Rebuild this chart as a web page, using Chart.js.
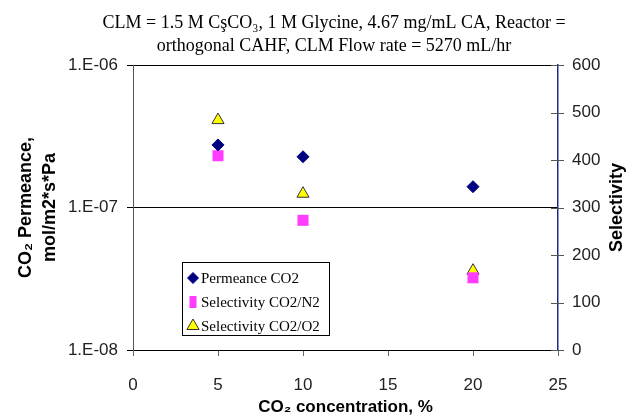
<!DOCTYPE html>
<html>
<head>
<meta charset="utf-8">
<script src="https://cdn.jsdelivr.net/npm/chart.js@4.4.1/dist/chart.umd.min.js"></script>
<style>
  html, body { margin: 0; padding: 0; background: #fff; }
  #wrap { position: relative; width: 631px; height: 415px; }
</style>
</head>
<body>
<div id="wrap"><canvas id="chart"></canvas></div>
<script>
// Valeurs
const co2Concentration = [5, 10, 20];
const permeanceCO2 = [2.75e-7, 2.27e-7, 1.40e-7];
const selectivityN2 = [409, 273, 152];
const selectivityO2 = [484, 329, 167];

const xTicks = [0, 5, 10, 15, 20, 25];
const leftTicks = [1e-8, 1e-7, 1e-6];
const leftTickLabels = ['1.E-08', '1.E-07', '1.E-06'];
const rightTicks = [0, 100, 200, 300, 400, 500, 600];

const seriesNames = ['Permeance CO2', 'Selectivity CO2/N2', 'Selectivity CO2/O2'];
const titleLines = [
    'CLM = 1.5 M CşCO₃, 1 M Glycine, 4.67 mg/mL CA, Reactor =',
    'orthogonal CAHF, CLM Flow rate = 5270 mL/hr'
];
const leftAxisTitle = ['CO₂ Permeance,', 'mol/m2*s*Pa'];
const rightAxisTitle = 'Selectivity';
const xAxisTitle = 'CO₂ concentration, %';

const SANS = 'Arial, "Liberation Sans", sans-serif';
const SERIF = '"Times New Roman", "Liberation Serif", serif';

const toPoints = (ys) => ys.map((y, i) => ({ x: co2Concentration[i], y: y }));

// titre en deux lignes, centré comme dans l'original
const titlePlugin = {
    id: 'titleLines',
    afterDraw(chart) {
        const { ctx } = chart;
        ctx.save();
        ctx.fillStyle = '#000';
        ctx.font = '18px ' + SERIF;
        ctx.textAlign = 'center';
        ctx.textBaseline = 'alphabetic';
        ctx.fillText(titleLines[0], 334, 28);
        ctx.fillText(titleLines[1], 334, 50.5);
        ctx.restore();
    }
};

// axe de droite : graduations croisées + titre lu de bas en haut
const rightAxisPlugin = {
    id: 'rightAxis',
    afterDraw(chart) {
        const { ctx, chartArea } = chart;
        const y1 = chart.scales.y1;
        ctx.save();
        ctx.strokeStyle = '#555';
        ctx.lineWidth = 1;
        y1.ticks.forEach(t => {
            const py = Math.round(y1.getPixelForValue(t.value)) + 0.5;
            ctx.beginPath();
            ctx.moveTo(chartArea.right - 7, py);
            ctx.lineTo(chartArea.right + 6, py);
            ctx.stroke();
        });
        ctx.translate(617, (chartArea.top + chartArea.bottom) / 2);
        ctx.rotate(-Math.PI / 2);
        ctx.fillStyle = '#000';
        ctx.font = 'bold 18px ' + SANS;
        ctx.textAlign = 'center';
        ctx.textBaseline = 'middle';
        ctx.fillText(rightAxisTitle, 0, 0);
        ctx.restore();
    }
};

// légende encadrée dans la zone de tracé
const boxLegendPlugin = {
    id: 'boxLegend',
    afterDatasetsDraw(chart) {
        const { ctx } = chart;
        const left = 182, top = 262, width = 147, height = 73;
        ctx.save();
        ctx.fillStyle = '#fff';
        ctx.fillRect(left, top, width, height);
        ctx.strokeStyle = '#000';
        ctx.lineWidth = 1;
        ctx.strokeRect(left + 0.5, top + 0.5, width, height);
        ctx.font = '15px ' + SERIF;
        ctx.textBaseline = 'middle';
        ctx.textAlign = 'left';
        chart.data.datasets.forEach((ds, i) => {
            const rowY = top + 16 + i * 24;
            const opts = {
                pointStyle: ds.pointStyle,
                radius: ds.legendRadius,
                borderWidth: ds.borderWidth,
                rotation: 0
            };
            ctx.fillStyle = ds.backgroundColor;
            ctx.strokeStyle = ds.borderColor;
            ctx.lineWidth = ds.borderWidth;
            Chart.helpers.drawPointLegend(ctx, opts, left + 11, rowY, ds.legendWidth);
            ctx.fillStyle = '#000';
            ctx.fillText(ds.label, left + 19, rowY + 1);
        });
        ctx.restore();
    }
};

new Chart(document.getElementById('chart'), {
    type: 'scatter',
    data: {
        datasets: [
            {
                label: seriesNames[0],
                data: toPoints(permeanceCO2),
                yAxisID: 'y',
                pointStyle: 'rectRot',
                pointRadius: 6,
                legendRadius: 5.5,
                backgroundColor: '#000080',
                borderColor: '#000080',
                borderWidth: 1
            },
            {
                label: seriesNames[1],
                data: toPoints(selectivityN2),
                yAxisID: 'y1',
                pointStyle: 'rect',
                pointRadius: 7.8,
                legendRadius: 8.5,
                legendWidth: 7,
                backgroundColor: '#ff3cff',
                borderColor: '#ff3cff',
                borderWidth: 0
            },
            {
                label: seriesNames[2],
                data: toPoints(selectivityO2),
                yAxisID: 'y1',
                pointStyle: 'triangle',
                pointRadius: 7,
                legendRadius: 7,
                backgroundColor: '#ffff00',
                borderColor: '#333',
                borderWidth: 1
            }
        ]
    },
    options: {
        responsive: true,
        maintainAspectRatio: false,
        animation: false,
        devicePixelRatio: 1,
        layout: { padding: { top: 65, left: 0, right: 0, bottom: 0 } },
        plugins: {
            legend: { display: false },
            tooltip: { enabled: false }
        },
        scales: {
            x: {
                type: 'linear',
                min: 0,
                max: 25,
                afterBuildTicks: (s) => { s.ticks = xTicks.map(v => ({ value: v })); },
                afterFit: (s) => { s.height = 65; },
                grid: { drawOnChartArea: false, drawTicks: true, tickLength: 6, color: '#666' },
                border: { color: '#000', width: 1 },
                ticks: { font: { family: SANS, size: 17 }, color: '#222', padding: 19, maxRotation: 0 },
                title: {
                    display: true,
                    text: xAxisTitle,
                    font: { family: SANS, size: 17, weight: 'bold', lineHeight: 0.85 },
                    color: '#000',
                    padding: 0
                }
            },
            y: {
                type: 'logarithmic',
                position: 'left',
                min: 1e-8,
                max: 1e-6,
                afterBuildTicks: (s) => { s.ticks = leftTicks.map(v => ({ value: v, major: true })); },
                afterFit: (s) => { s.width = 133; },
                grid: { color: '#000', lineWidth: 1, tickLength: 6, tickColor: '#000' },
                border: { color: '#555', width: 1 },
                ticks: {
                    font: { family: SANS, size: 17 },
                    color: '#222',
                    padding: 9,
                    callback: (v, i) => leftTickLabels[i]
                },
                title: {
                    display: true,
                    text: leftAxisTitle,
                    font: { family: SANS, size: 18, weight: 'bold', lineHeight: 1.28 },
                    color: '#000',
                    padding: { top: 15 }
                }
            },
            y1: {
                type: 'linear',
                position: 'right',
                min: 0,
                max: 600,
                afterBuildTicks: (s) => { s.ticks = rightTicks.map(v => ({ value: v })); },
                afterFit: (s) => { s.width = 73; },
                grid: { drawOnChartArea: false, drawTicks: false },
                border: { color: '#1a2a94', width: 1.5 },
                ticks: { font: { family: SANS, size: 17 }, color: '#222', padding: 14 }
            }
        }
    },
    plugins: [titlePlugin, rightAxisPlugin, boxLegendPlugin]
});
</script>
</body>
</html>
